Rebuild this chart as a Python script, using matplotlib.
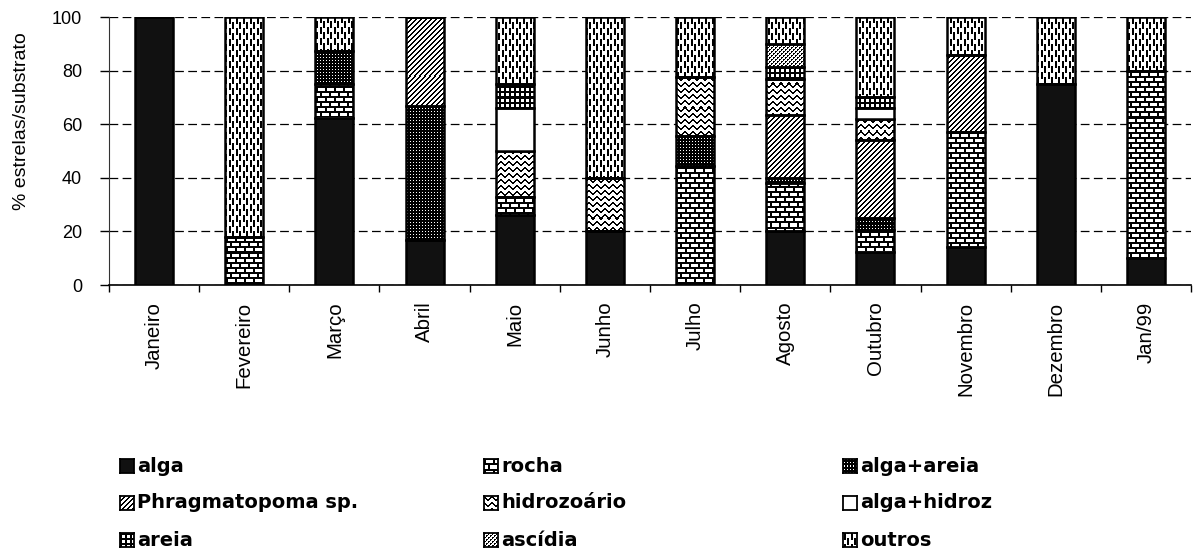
import numpy as np
import matplotlib
matplotlib.use('Agg')
import matplotlib.pyplot as plt

plt.rcParams['font.family'] = 'Liberation Sans'

# percentagem de estrelas por substrato em cada mês
meses = ['Janeiro', 'Fevereiro', 'Março', 'Abril', 'Maio', 'Junho', 'Julho',
         'Agosto', 'Outubro', 'Novembro', 'Dezembro', 'Jan/99']

alga          = [100,  0, 62.5, 16.7, 26, 20,  0.0, 20.0, 12.5, 14.3, 75, 10]
rocha         = [0,   18, 12.5,  0.0,  7,  0, 44.4, 18.0,  8.0, 42.9,  0, 70]
alga_areia    = [0,    0, 12.5, 50.0,  0,  0, 11.1,  2.0,  4.5,  0.0,  0,  0]
phragmatopoma = [0,    0,  0.0, 33.3,  0,  0,  0.0, 23.5, 29.0, 28.6,  0,  0]
hidrozoario   = [0,    0,  0.0,  0.0, 17, 20, 22.2, 13.5,  8.0,  0.0,  0,  0]
alga_hidroz   = [0,    0,  0.0,  0.0, 16,  0,  0.0,  0.0,  4.0,  0.0,  0,  0]
areia         = [0,    0,  0.0,  0.0,  9,  0,  0.0,  4.5,  4.0,  0.0,  0,  0]
ascidia       = [0,    0,  0.0,  0.0,  0,  0,  0.0,  8.5,  0.0,  0.0,  0,  0]
outros        = [0,   82, 12.5,  0.0, 25, 60, 22.3, 10.0, 30.0, 14.2, 25, 20]

substratos = ['alga', 'rocha', 'alga+areia', 'Phragmatopoma sp.', 'hidrozoário',
              'alga+hidroz', 'areia', 'ascídia', 'outros']
valores = [alga, rocha, alga_areia, phragmatopoma, hidrozoario, alga_hidroz,
           areia, ascidia, outros]


# pequenos padrões em pixels (1 = preto) para imitar as tramas
def padrao_rocha():
    t = np.zeros((10, 9))
    t[0:2, :] = 1
    t[2:5, 0:2] = 1
    t[5:7, :] = 1
    t[7:10, 4:6] = 1
    return t


def padrao_outros():
    t = np.zeros((11, 7))
    t[0:7, 1:3] = 1
    t[5:11, 4:6] = 1
    t[0, 4:6] = 1
    return t


def padrao_hidro():
    t = np.zeros((6, 8))
    for c, o in enumerate([0, 1, 2, 3, 3, 2, 1, 0]):
        t[o:o + 2, c] = 1
    return t


def padrao_phrag():
    t = np.zeros((5, 5))
    for r in range(5):
        t[r, (4 - r) % 5] = 1
        t[r, (5 - r) % 5] = 1
    return t


def padrao_areia():
    t = np.zeros((5, 5))
    t[0:2, :] = 1
    t[:, 0:2] = 1
    return t


def padrao_ascidia():
    t = np.zeros((4, 4))
    t[0, 0] = t[0, 1] = t[1, 0] = 1
    t[2, 2] = t[2, 3] = t[3, 2] = 1
    return t


def padrao_alga_areia():
    t = np.ones((3, 3))
    t[1, 1] = 0
    return t


padroes = {
    'rocha': padrao_rocha(),
    'alga+areia': padrao_alga_areia(),
    'Phragmatopoma sp.': padrao_phrag(),
    'hidrozoário': padrao_hidro(),
    'areia': padrao_areia(),
    'ascídia': padrao_ascidia(),
    'outros': padrao_outros(),
}
cores = {'alga': '#111111', 'alga+hidroz': 'white'}


def ladrilhar(t, h, w):
    return np.tile(t, (h // t.shape[0] + 1, w // t.shape[1] + 1))[:h, :w]


W, H = 1199, 558
fig = plt.figure(figsize=(W / 100, H / 100), dpi=100)
ax = fig.add_axes([109 / W, 1 - 285 / H, 1082 / W, 268 / H])

bb = ax.get_window_extent()
w_px, h_px = int(round(bb.width)), int(round(bb.height))

x = np.arange(len(meses))
base = np.zeros(len(meses))
for nome, vals in zip(substratos, valores):
    barras = ax.bar(x, vals, width=0.42, bottom=base, color=cores.get(nome, 'none'),
                    edgecolor='black', linewidth=1.8, zorder=3)
    if nome in padroes:
        textura = ladrilhar(padroes[nome], h_px, w_px)
        for b, v in zip(barras, vals):
            if v > 0:
                im = ax.imshow(textura, cmap='gray_r', vmin=0, vmax=1,
                               extent=(-0.5, 11.5, 0, 100), aspect='auto',
                               interpolation='nearest', zorder=2)
                im.set_clip_path(b)
    base += np.array(vals)

ax.set_xlim(-0.5, 11.5)
ax.set_ylim(0, 100)

ax.set_yticks(range(0, 101, 20))
ax.tick_params(axis='y', length=6.5, width=1, pad=13, labelsize=13)
ax.set_xticks(x)
ax.set_xticklabels(meses, rotation=90)
ax.tick_params(axis='x', which='major', length=0, pad=12, labelsize=14.7)
ax.set_xticks(np.arange(-0.5, 12, 1), minor=True)
ax.tick_params(axis='x', which='minor', length=5, width=1)

ax.yaxis.grid(True, linestyle=(0, (7, 3.5)), color='black', linewidth=0.9)
ax.set_axisbelow(True)
for s in ['top', 'right']:
    ax.spines[s].set_visible(False)
ax.spines['left'].set_color('#333333')
ax.spines['bottom'].set_linewidth(1.2)

ax.set_ylabel('% estrelas/substrato', fontsize=14)
ax.yaxis.set_label_coords(-0.073, 0.612)

# legenda em três colunas, preenchida por linhas
col_x = [120, 484, 843]
lin_y = [466, 503, 540]
for i, nome in enumerate(substratos):
    kx, ky = col_x[i % 3], lin_y[i // 3]
    kax = fig.add_axes([kx / W, 1 - (ky + 7) / H, 14 / W, 14 / H])
    if nome in padroes:
        kax.imshow(ladrilhar(padroes[nome], 14, 14), cmap='gray_r', vmin=0, vmax=1,
                   interpolation='nearest', aspect='auto')
    else:
        kax.set_facecolor(cores[nome])
    kax.set_xticks([])
    kax.set_yticks([])
    for s in kax.spines.values():
        s.set_linewidth(1.3)
    fig.text((kx + 17) / W, 1 - ky / H, nome, va='center', ha='left',
             fontsize=14, fontweight='bold', family='DejaVu Sans')

fig.savefig('out.png', dpi=100)
